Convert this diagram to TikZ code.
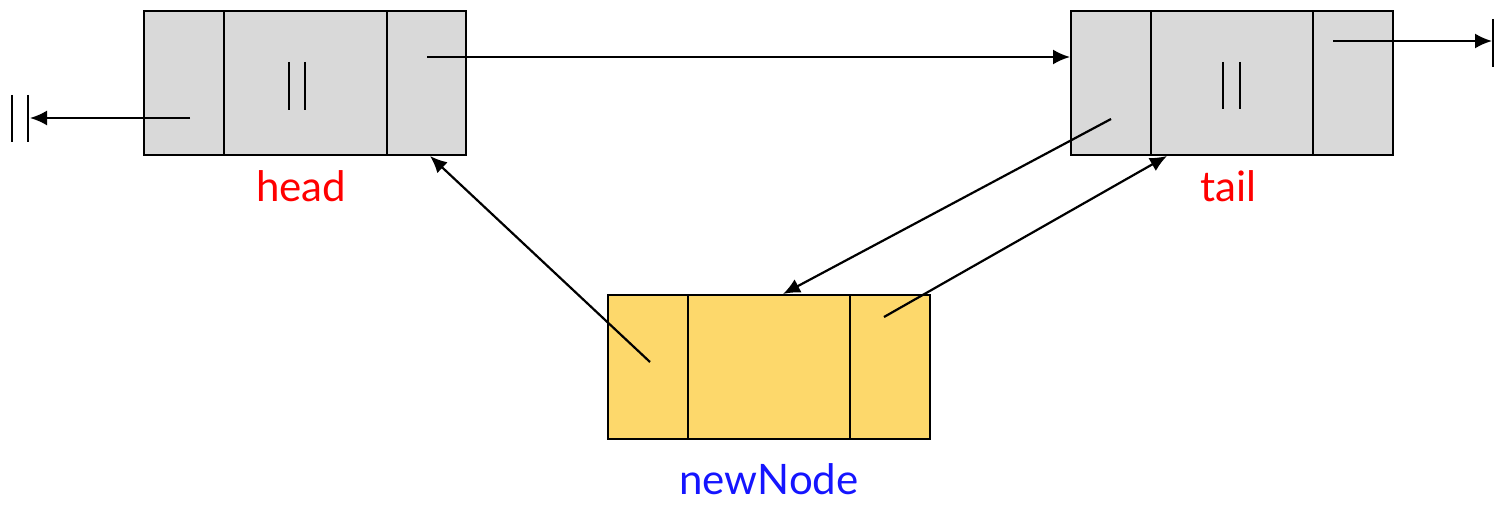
\documentclass[tikz,border=0pt]{standalone}
\usepackage{fontspec}
\setmainfont{Lato}
\usetikzlibrary{arrows.meta}
\definecolor{cellgray}{HTML}{D9D9D9}
\definecolor{cellgold}{HTML}{FDD86B}
\definecolor{lblred}{HTML}{FF0000}
\definecolor{lblblue}{HTML}{1515FF}
\tikzset{
  cell/.style={draw=black, line width=2pt, inner sep=0pt, minimum height=144pt},
  oldcell/.style={cell, fill=cellgray},
  newcell/.style={cell, fill=cellgold},
  ptr/.style={draw=black, line width=2.2pt, -{Latex[length=17pt,width=15pt]}},
  bar/.style={draw=black, line width=2.2pt},
  lbl/.style={font=\fontsize{42}{46}\selectfont, inner sep=0pt, anchor=base},
}
\begin{document}
\begin{tikzpicture}[x=1pt, y=-1pt]
\useasboundingbox (0,0) rectangle (1509,505);

% head list node
\node[oldcell, minimum width=80pt]  (hA) at (184,83) {};
\node[oldcell, minimum width=163pt] (hB) at (305.5,83) {};
\node[oldcell, minimum width=79pt]  (hC) at (426.5,83) {};
% tail list node
\node[oldcell, minimum width=80pt]  (tA) at (1111,83) {};
\node[oldcell, minimum width=162pt] (tB) at (1232,83) {};
\node[oldcell, minimum width=80pt]  (tC) at (1353,83) {};
% node to be inserted
\node[newcell, minimum width=80pt]  (nA) at (648,367) {};
\node[newcell, minimum width=162pt] (nB) at (769,367) {};
\node[newcell, minimum width=80pt]  (nC) at (890,367) {};

% null data marks
\draw[bar] (289,62) -- (289,110) (305,62) -- (305,110);
\draw[bar] (1223,62) -- (1223,109) (1240,62) -- (1240,109);

% labels
\node[lbl, text=lblred]  (hl) at (301,201) {head};
\node[lbl, text=lblred]  (tl) at (1228,201) {tail};
\node[lbl, text=lblblue] (nl) at (769,494) {newNode};

% pointer sources
\coordinate (hprev) at (190,118);
\coordinate (hnext) at (427,57);
\coordinate (tprev) at (1111,119);
\coordinate (tnext) at (1333,41);
\coordinate (nprev) at (650,362);
\coordinate (nnext) at (884,317);
% null ends
\coordinate (nullL) at (30,118);
\coordinate (nullR) at (1492,41);

\draw[bar] (12,95) -- (12,142) (28,95) -- (28,142);
\draw[bar] (1493,19) -- (1493,67);

% pointers
\draw[ptr] (hprev) -- (nullL);
\draw[ptr] (hnext) -- (hnext -| tA.west);
\draw[ptr] (tnext) -- (nullR);
\draw[ptr] (tprev) -- ([xshift=14pt]nB.north);
\draw[ptr] (nnext) -- ([xshift=-65pt]tB.south);
\draw[ptr] (nprev) -- ([xshift=3.5pt]hC.south);
\end{tikzpicture}
\end{document}
